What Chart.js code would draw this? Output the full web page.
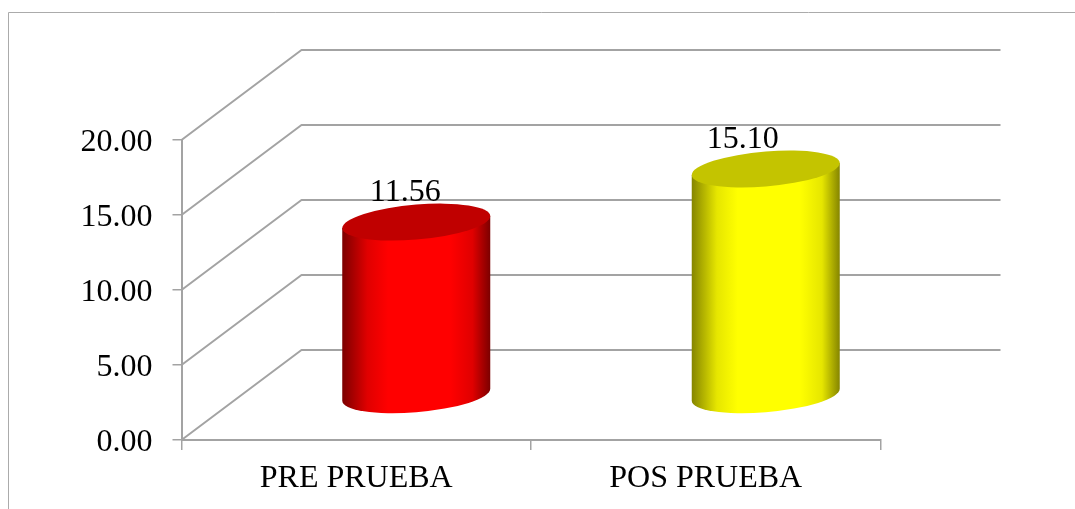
<!DOCTYPE html>
<html>
<head>
    <meta charset="utf-8">
    <title>PRE PRUEBA / POS PRUEBA</title>
    <script src="https://cdn.jsdelivr.net/npm/chart.js"></script>
    <style>
        body { margin: 0; background-color: #ffffff; }
        #wrap { position: relative; width: 1075px; height: 509px; }
    </style>
</head>
<body>
    <div id="wrap"><canvas id="myChart" width="1075" height="509"></canvas></div>
    <script>
        // data
        var categories = ['PRE PRUEBA', 'POS PRUEBA'];
        var values = [11.56, 15.10];
        var yTicks = [0, 5, 10, 15, 20];

        // bar colours: body, shaded edge, lid
        var barColors = ['#ff0000', '#ffff00'];
        var edgeColors = ['#7c0000', '#858500'];
        var midColors = ['#e00000', '#e6e600'];
        var lidColors = ['#c00000', '#c4c400'];
        // the value labels do not sit centred on the cylinders in the original
        var labelShift = [-11, -23];

        var axisColor = '#a3a3a3';
        var font = { family: '"Liberation Serif", serif', size: 32 };
        var depthX = 120, depthY = 90; // the fake 3D depth of the plot floor
        var lidTilt = -0.081, lidHeight = 17.5;

        function drawCylinder(ctx, el, i) {
            var cx = el.x + depthX / 2;
            var top = el.y - depthY / 2 + 0.5;
            var base = el.base - depthY / 2 + 0.5;
            var r = el.width / 2;

            ctx.save();
            ctx.translate(cx, 0);
            ctx.transform(1, lidTilt, 0, 1, 0, 0);

            var grad = ctx.createLinearGradient(-r, 0, r, 0);
            grad.addColorStop(0, edgeColors[i]);
            grad.addColorStop(0.17, midColors[i]);
            grad.addColorStop(0.31, barColors[i]);
            grad.addColorStop(0.73, barColors[i]);
            grad.addColorStop(0.88, midColors[i]);
            grad.addColorStop(1, edgeColors[i]);

            // body and round bottom
            ctx.beginPath();
            ctx.moveTo(-r, top);
            ctx.lineTo(-r, base);
            ctx.ellipse(0, base, r, lidHeight, 0, Math.PI, 0, true);
            ctx.lineTo(r, top);
            ctx.closePath();
            ctx.fillStyle = grad;
            ctx.fill();
            // lid
            ctx.beginPath();
            ctx.ellipse(0, top, r, lidHeight, 0, 0, Math.PI * 2);
            ctx.fillStyle = lidColors[i];
            ctx.fill();
            ctx.restore();
        }

        var plot3d = {
            id: 'plot3d',
            beforeDraw: function (chart) {
                var ctx = chart.ctx;
                // outer frame, only top and left are inside the picture
                ctx.save();
                ctx.strokeStyle = '#ababab';
                ctx.lineWidth = 1;
                ctx.beginPath();
                ctx.moveTo(8.5, 509);
                ctx.lineTo(8.5, 12.5);
                ctx.lineTo(1075, 12.5);
                ctx.stroke();
                ctx.restore();
                // value axis labels sit a little lower than chart.js centres them
                chart.scales.y.getLabelItems(chart.chartArea).forEach(function (item) {
                    item.textOffset += 3;
                });
            },
            beforeDatasetsDraw: function (chart) {
                var ctx = chart.ctx;
                var y = chart.scales.y;
                var left = chart.chartArea.left;
                ctx.save();
                ctx.strokeStyle = axisColor;
                ctx.lineWidth = 2;
                ctx.lineJoin = 'round';
                yTicks.forEach(function (t) {
                    var py = y.getPixelForValue(t);
                    ctx.beginPath();
                    ctx.moveTo(left, py);
                    ctx.lineTo(left + depthX, py - depthY);
                    ctx.lineTo(chart.chartArea.right + depthX, py - depthY);
                    ctx.stroke();
                });
                ctx.restore();
            },
            beforeDatasetDraw: function (chart, args) {
                // cylinders replace the flat bars, positions come from the bar elements
                var meta = chart.getDatasetMeta(args.index);
                meta.data.forEach(function (el, i) {
                    drawCylinder(chart.ctx, el, i);
                });
                return false;
            },
            afterDatasetsDraw: function (chart) {
                var ctx = chart.ctx;
                var meta = chart.getDatasetMeta(0);
                ctx.save();
                ctx.fillStyle = '#000000';
                ctx.font = font.size + 'px ' + font.family;
                ctx.textAlign = 'center';
                ctx.textBaseline = 'alphabetic';
                meta.data.forEach(function (el, i) {
                    ctx.fillText(values[i].toFixed(2), el.x + depthX / 2 + labelShift[i], el.y - depthY / 2 - 21);
                });
                ctx.restore();
            }
        };

        var ctx = document.getElementById('myChart').getContext('2d');
        var chart = new Chart(ctx, {
            type: 'bar',
            data: {
                labels: categories,
                datasets: [{
                    label: 'Valor',
                    data: values,
                    backgroundColor: barColors,
                    barPercentage: 0.4235,
                    categoryPercentage: 1
                }]
            },
            options: {
                responsive: false,
                animation: false,
                layout: { autoPadding: false, padding: { left: 0, top: 140, right: 194.5, bottom: 0 } },
                plugins: { legend: { display: false }, tooltip: { enabled: false }, title: { display: false } },
                scales: {
                    x: {
                        afterFit: function (scale) { scale.height = 69; },
                        grid: { color: axisColor, lineWidth: 1.5, tickLength: 10, drawOnChartArea: false },
                        border: { color: axisColor, width: 2 },
                        ticks: { color: '#000000', font: font, padding: 9, maxRotation: 0 }
                    },
                    y: {
                        min: 0,
                        max: 20,
                        afterFit: function (scale) { scale.width = 181.5; },
                        afterBuildTicks: function (scale) {
                            scale.ticks = yTicks.map(function (v) { return { value: v }; });
                        },
                        grid: { color: axisColor, lineWidth: 1.5, tickLength: 9, drawOnChartArea: false },
                        border: { color: axisColor, width: 2 },
                        ticks: {
                            color: '#000000',
                            font: font,
                            padding: 20,
                            callback: function (v) { return Number(v).toFixed(2); }
                        }
                    }
                }
            },
            plugins: [plot3d]
        });
    </script>
</body>
</html>
